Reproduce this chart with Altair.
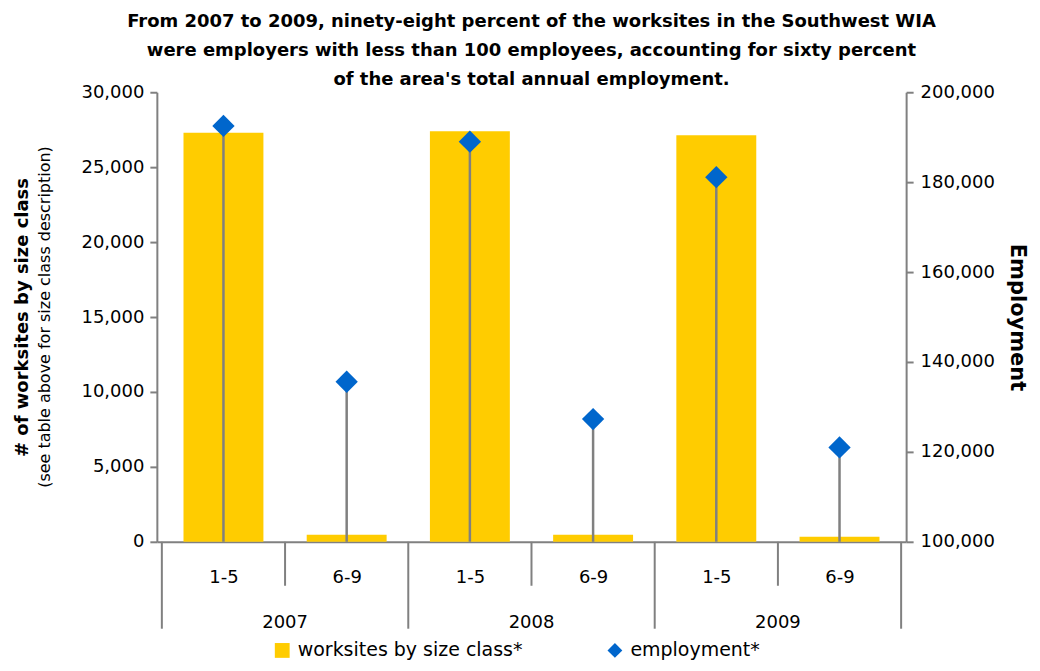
import json
import altair as alt
import pandas as pd

# ---- data ----
years = ["2007", "2007", "2008", "2008", "2009", "2009"]
size_classes = ["1-5", "6-9", "1-5", "6-9", "1-5", "6-9"]
worksites = [27300, 470, 27400, 470, 27130, 330]
employment = [192500, 135600, 189000, 127300, 181100, 121000]
year_labels = ["2007", "2008", "2009"]
series_names = ["worksites by size class*", "employment*"]
left_ticks = [0, 5000, 10000, 15000, 20000, 25000, 30000]
right_ticks = [100000, 120000, 140000, 160000, 180000, 200000]

FONT = "DejaVu Sans"
GRAY = "#808080"
YELLOW = "#FFCC00"
BLUE = "#0066CC"

n = len(size_classes)
df = pd.DataFrame({
    "pos": [i + 0.5 for i in range(n)],
    "year": years,
    "size": size_classes,
    "worksites": worksites,
    "employment": employment,
    "s_emp": series_names[1],
})
minor = pd.DataFrame({"b": [i for i in range(1, n, 2)]})
major = pd.DataFrame({"b": [i for i in range(0, n + 1, 2)]})
yr = pd.DataFrame({"c": [2 * i + 1 for i in range(len(year_labels))], "year": year_labels})

xscale = alt.Scale(domain=[0, n], nice=False, zero=False)
xaxis = alt.Axis(
    values=[i + 0.5 for i in range(n)],
    labelExpr=f"{json.dumps(size_classes)}[floor(datum.value)]",
    ticks=False, grid=False, title=None,
    domainColor=GRAY, domainWidth=2,
    labelPadding=27, labelFontSize=18, labelFont=FONT, labelColor="black",
)
X = alt.X("pos:Q", scale=xscale, axis=xaxis)

color_scale = alt.Scale(domain=series_names, range=[YELLOW, BLUE])

bars = alt.Chart(df).mark_bar(size=80, color=YELLOW).encode(
    x=X,
    y=alt.Y("worksites:Q", scale=alt.Scale(domain=[0, 30000], nice=False),
            axis=alt.Axis(values=left_ticks, format=",.0f", grid=False,
                          title="# of worksites by size class",
                          titleFontSize=18, titleFontWeight="bold", titleFont=FONT,
                          titleColor="black", titlePadding=49,
                          labelFontSize=18, labelFont=FONT, labelColor="black",
                          labelPadding=6, tickSize=7, tickColor=GRAY, tickWidth=2,
                          domainColor=GRAY, domainWidth=2)),
)

sub_title = alt.Chart(pd.DataFrame({"t": ["(see table above for size class description)"]})).mark_text(
    angle=270, fontSize=16, font=FONT, color="black", baseline="middle", align="center"
).encode(x=alt.value(-112), y=alt.value(225), text="t:N")

sep_minor = alt.Chart(minor).mark_rule(color=GRAY, strokeWidth=2).encode(
    x=alt.X("b:Q", scale=xscale), y=alt.value(450), y2=alt.value(494))
sep_major = alt.Chart(major).mark_rule(color=GRAY, strokeWidth=2).encode(
    x=alt.X("b:Q", scale=xscale), y=alt.value(450), y2=alt.value(537))
year_text = alt.Chart(yr).mark_text(fontSize=18, font=FONT, color="black", baseline="middle").encode(
    x=alt.X("c:Q", scale=xscale), y=alt.value(531), text="year:N")

left = alt.layer(bars, sub_title, sep_minor, sep_major, year_text)

Yr = alt.Y("employment:Q", scale=alt.Scale(domain=[100000, 200000], nice=False, zero=False),
           axis=alt.Axis(values=right_ticks, format=",.0f", grid=False, orient="right",
                         title="Employment", titleFontSize=21, titleFontWeight="bold",
                         titleFont=FONT, titleColor="black", titlePadding=12,
                         labelFontSize=18, labelFont=FONT, labelColor="black",
                         labelPadding=7, tickSize=7, tickColor=GRAY, tickWidth=2,
                         domainColor=GRAY, domainWidth=2))

legend = alt.Legend(title=None, orient="none", legendX=116, legendY=549,
                    direction="horizontal",
                    labelFontSize=19, labelFont=FONT, labelColor="black", labelLimit=400,
                    symbolSize=220, columnPadding=82, labelOffset=6,
                    symbolStrokeWidth=0)

stems = alt.Chart(df).mark_rule(color=GRAY, strokeWidth=2.5).encode(
    x=X, y=Yr, y2=alt.datum(100000))
points = alt.Chart(df).mark_point(filled=True, size=500, opacity=1).encode(
    x=X, y=Yr,
    color=alt.Color("s_emp:N", scale=color_scale, legend=legend),
    shape=alt.Shape("s_emp:N", scale=alt.Scale(domain=series_names, range=["square", "diamond"]),
                    legend=legend),
)
right = alt.layer(stems, points)

chart = alt.layer(left, right).resolve_scale(y="independent").properties(
    width=750, height=450,
    padding={"left": 6, "right": 4, "top": 5, "bottom": 0},
    title=alt.Title(
        ["From 2007 to 2009, ninety-eight percent of the worksites in the Southwest WIA",
         "were employers with less than 100 employees, accounting for sixty percent",
         "of the area's total annual employment."],
        fontSize=18, fontWeight="bold", font=FONT, color="black",
        lineHeight=29, anchor="middle", offset=-6),
).configure_view(stroke=None)

chart.save("out.html", embed_options={"renderer": "svg", "actions": False})
